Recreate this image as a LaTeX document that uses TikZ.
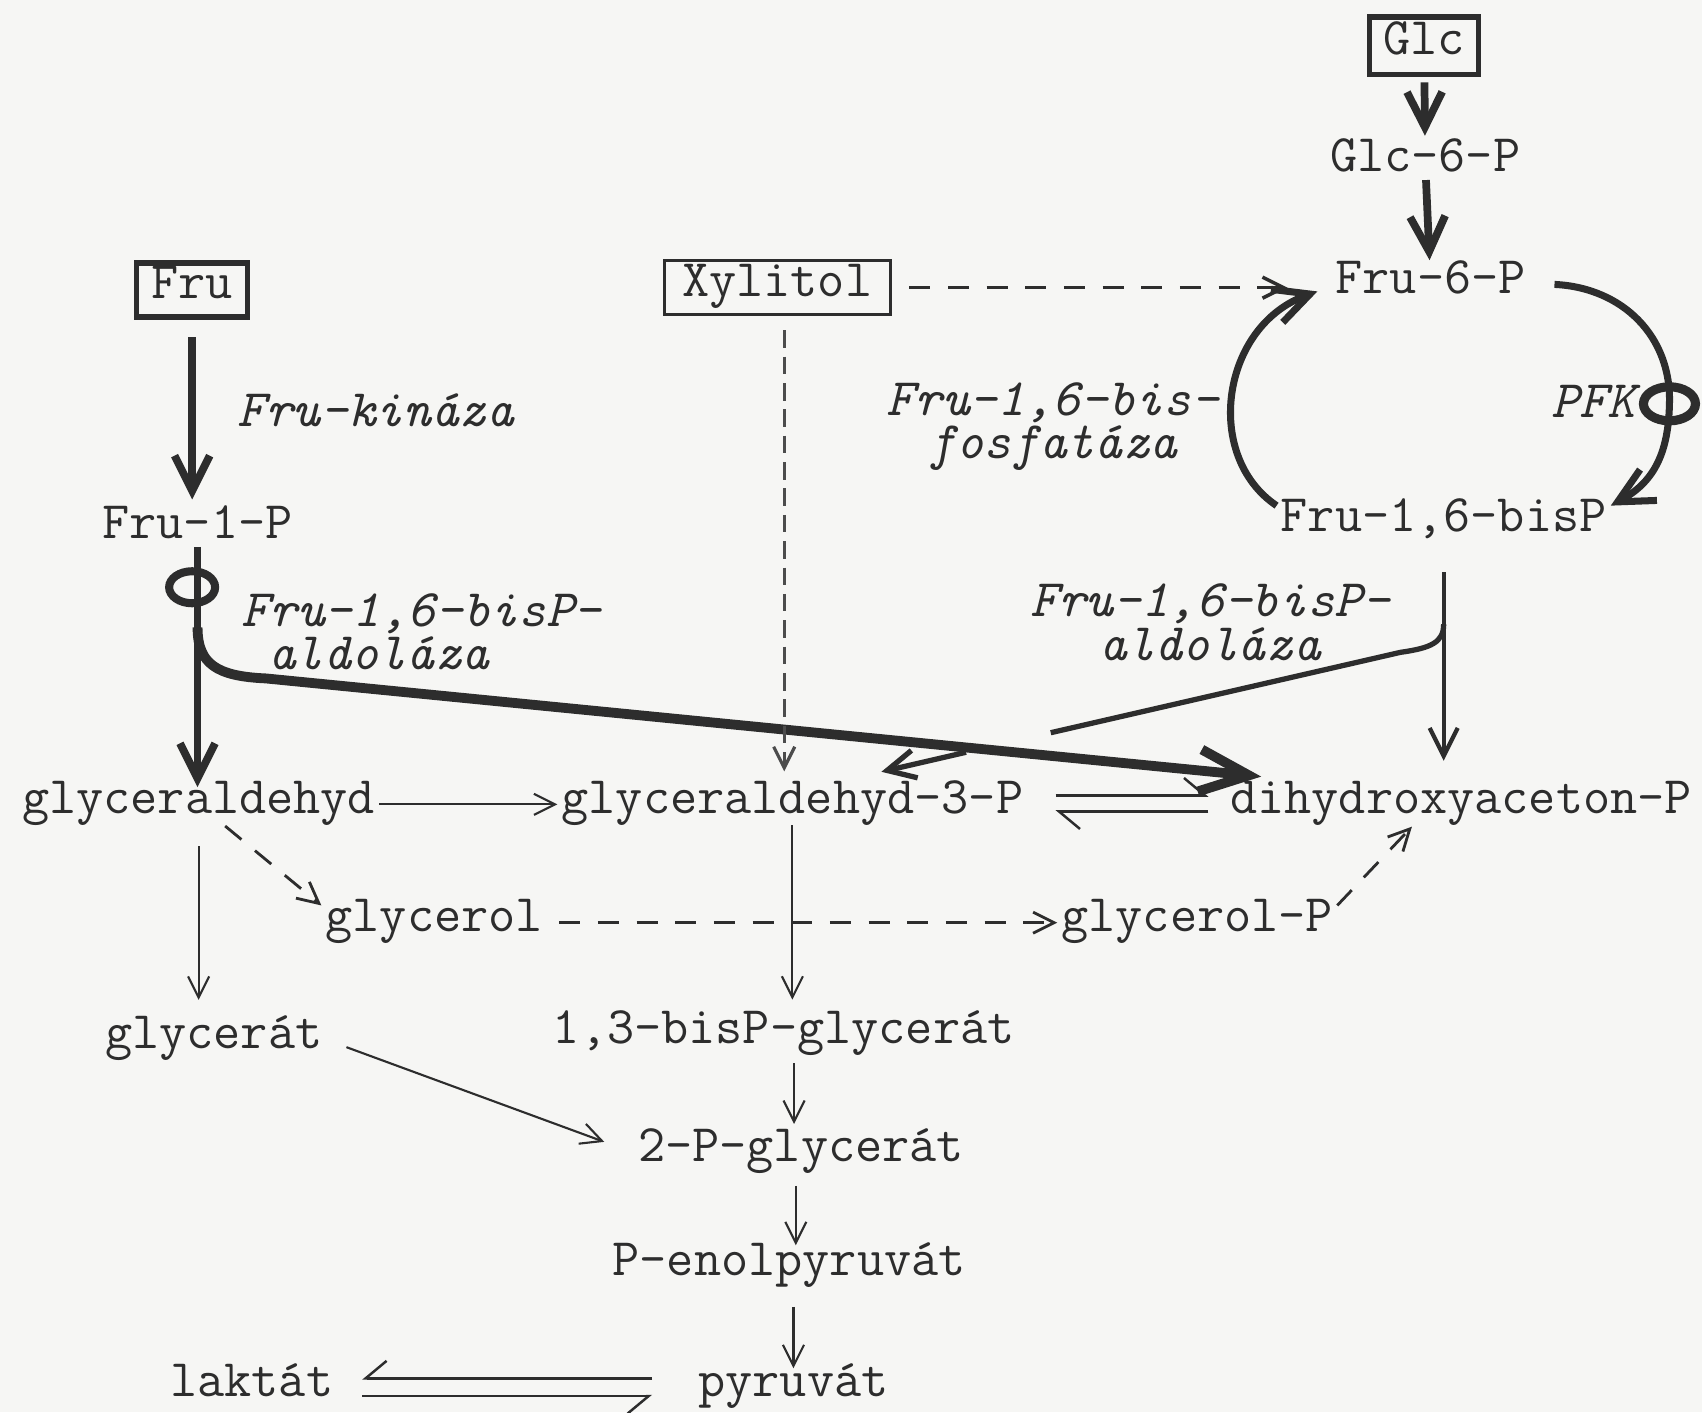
\documentclass[tikz,border=0pt]{standalone}
\usepackage{fontspec}
\usetikzlibrary{arrows.meta,shapes.geometric}

\definecolor{paper}{RGB}{246,246,244}
\definecolor{ink}{RGB}{45,45,45}

\newcommand{\cmpfont}{\ttfamily\fontsize{15}{17}\selectfont}
\newcommand{\enzfont}{\ttfamily\itshape\fontsize{15}{12.5}\selectfont}

\tikzset{
  cmp/.style={font=\cmpfont, text=ink, inner sep=1pt, text height=0.62em, text depth=0.12em},
  srcbox/.style={cmp, draw=ink, line width=1.6pt, minimum height=5.4mm},
  enz/.style={font=\enzfont, text=ink, inner sep=0pt},
  ring/.style={ellipse, draw=ink, line width=2.3pt, inner sep=0pt},
  fat/.style={draw=ink, line width=2.2pt, -{Straight Barb[length=10pt,width=10pt]}},
  med/.style={draw=ink, line width=1.2pt, -{Straight Barb[length=8pt,width=8pt]}},
  rxn/.style={draw=ink, line width=0.6pt, -{Straight Barb[length=6pt,width=6pt]}},
  dsh/.style={rxn, line width=0.8pt, dash pattern=on 6pt off 5pt},
  eqr/.style={draw=ink, line width=0.7pt, -{Straight Barb[right,length=6pt,width=10pt]}},
  eql/.style={draw=ink, line width=0.7pt, -{Straight Barb[left,length=6pt,width=10pt]}},
}

\begin{document}
\begin{tikzpicture}[x=0.10855mm, y=-0.10855mm]
  \fill[paper] (0,0) rectangle (1568,1301);
  \useasboundingbox (0,0) rectangle (1568,1301);

  % sources
  \node[srcbox, minimum width=10.9mm, minimum height=5.75mm] (glc) at (1312,42) {Glc};
  \node[srcbox, minimum width=11.1mm] (fru) at (177,267) {Fru};
  \node[srcbox, line width=0.9pt, minimum width=22.6mm] (xyl) at (716,265) {Xylitol};

  % metabolites
  \node[cmp] (g6p) at (1313,150) {Glc-6-P};
  \node[cmp] (f6p) at (1318,262) {Fru-6-P};
  \node[cmp] (f16) at (1330,482) {Fru-1,6-bisP};
  \node[cmp] (f1p) at (182,488) {Fru-1-P};
  \node[cmp] (gald) at (183,741) {glyceraldehyd};
  \node[cmp] (g3p) at (730,741) {glyceraldehyd-3-P};
  \node[cmp] (dhap) at (1346,741) {dihydroxyaceton-P};
  \node[cmp] (glol) at (400,850) {glycerol};
  \node[cmp] (glolp) at (1103,850) {glycerol-P};
  \node[cmp] (glat) at (197,958) {glycerát};
  \node[cmp] (bpg) at (722,953) {1,3-bisP-glycerát};
  \node[cmp] (pg2) at (738,1062) {2-P-glycerát};
  \node[cmp] (pep) at (727,1167) {P-enolpyruvát};
  \node[cmp] (pyr) at (731,1278) {pyruvát};
  \node[cmp] (lak) at (232,1278) {laktát};

  % enzymes
  \node[enz, anchor=west] (fk) at (218,378) {Fru-kináza};
  \node[enz, anchor=west, align=left] (ald1) at (222,582) {Fru-1,6-bisP-\\\hspace*{.5em}aldoláza};
  \node[enz, align=center] (ald2) at (1115,573) {Fru-1,6-bisP-\\aldoláza};
  \node[enz, align=center] (fbp) at (970,393) {Fru-1,6-bis-\\fosfatáza};
  \node[enz] (pfk) at (1468,370) {PFK};

  \coordinate (c1) at (177,541);
  \coordinate (lb) at (182,578);
  \coordinate (rb) at (1330,575);
  \coordinate (c2) at (1538,372);
  \coordinate (ga) at (968,675);
  \coordinate (gb) at (890,693);
  \coordinate (gt) at (812,711);

  % glucose entry
  \draw[fat, shorten <=1.5pt, shorten >=2.8pt] (glc) -- (g6p);
  \draw[fat, shorten >=2pt] (g6p) -- (f6p);
  \draw[fat, line width=2pt] ([xshift=7pt]f6p.east) .. controls (1495,265) and (1540,310) .. (c2)
    .. controls (1537,420) and (1522,445) .. ([yshift=5pt]f16.east);
  \draw[fat, line width=2pt] ([yshift=5pt]f16.west) .. controls (1108,420) and (1125,300) .. ([xshift=-4pt,yshift=-2pt]f6p.west);
  \draw[med, shorten <=9pt, shorten >=7.5pt] (f16) -- (f16 |- dhap.north);
  \draw[draw=ink, line width=1.5pt] (rb) .. controls (1330,592) and (1318,597) .. (1290,601) -- (ga);
  \draw[med, line width=1.5pt] (gb) -- (gt);

  % fructose entry
  \draw[fat, shorten <=5pt, shorten >=3.7pt] (fru) -- (fru |- f1p.north);
  \draw[fat] (f1p) -- (f1p |- gald.north);
  \draw[draw=ink, line width=2.8pt, -{Straight Barb[length=14pt,width=12pt]}]
    (lb) .. controls (182,612) and (200,623) .. (245,625) -- ([shift={(10pt,3pt)}]dhap.north west);

  % xylitol
  \draw[dsh, line width=1pt, shorten <=5pt, shorten >=12.5pt] (xyl.east) -- (xyl.east -| f6p.west);
  \draw[rxn, draw=black!70, line width=0.9pt, dash pattern=on 5pt off 2.5pt, shorten <=4pt, shorten >=4.5pt]
    ([xshift=2pt]xyl.south) -- ([xshift=2pt]xyl.south |- g3p.north);

  % trioses
  \draw[rxn] (gald) -- (g3p);
  \draw[eql, shorten <=8pt, shorten >=5pt] ([yshift=2.5pt]g3p.east) -- ([yshift=2.5pt]dhap.west);
  \draw[eql, shorten <=5pt, shorten >=8pt] ([yshift=-2pt]dhap.west) -- ([yshift=-2pt]g3p.east);
  \draw[dsh, shorten <=2pt] ([xshift=6pt]gald.south) -- (glol.north west);
  \draw[dsh, shorten <=3.5pt] (glol) -- (glolp);
  \draw[dsh, shorten >=2pt] (glolp.north east) -- ([xshift=-12.6pt]dhap.south);
  \draw[rxn, shorten <=7pt, shorten >=6.5pt] (gald) -- (gald |- glat.north);
  \draw[rxn, shorten <=1pt, shorten >=5pt] (g3p) -- (g3p |- bpg.north);
  \draw[rxn, shorten <=6pt, shorten >=9pt] (glat.east) -- (pg2.west);

  % lower glycolysis
  \draw[rxn, shorten <=3.3pt, shorten >=3.3pt] ([xshift=-2pt]pg2 |- bpg.south) -- ([xshift=-2pt]pg2.north);
  \draw[rxn, shorten <=4.5pt, shorten >=1.2pt] ([xshift=-1.5pt]pg2.south) -- ([xshift=-1.5pt]pg2.south |- pep.north);
  \draw[rxn, shorten <=6.5pt, shorten >=0.5pt] (pyr |- pep.south) -- (pyr.north);
  \draw[eqr, shorten <=12pt, shorten >=7pt] ([yshift=2.5pt]pyr.west) -- ([yshift=2.5pt]lak.east);
  \draw[eqr, shorten <=7pt, shorten >=12pt] ([yshift=-2.5pt]lak.east) -- ([yshift=-2.5pt]pyr.west);

  % inhibition rings
  \node[ring, minimum width=4.6mm, minimum height=3.2mm] (r1) at (c1) {};
  \node[ring, line width=2.6pt, minimum width=5.2mm, minimum height=3.4mm] (r2) at (c2) {};
\end{tikzpicture}
\end{document}
